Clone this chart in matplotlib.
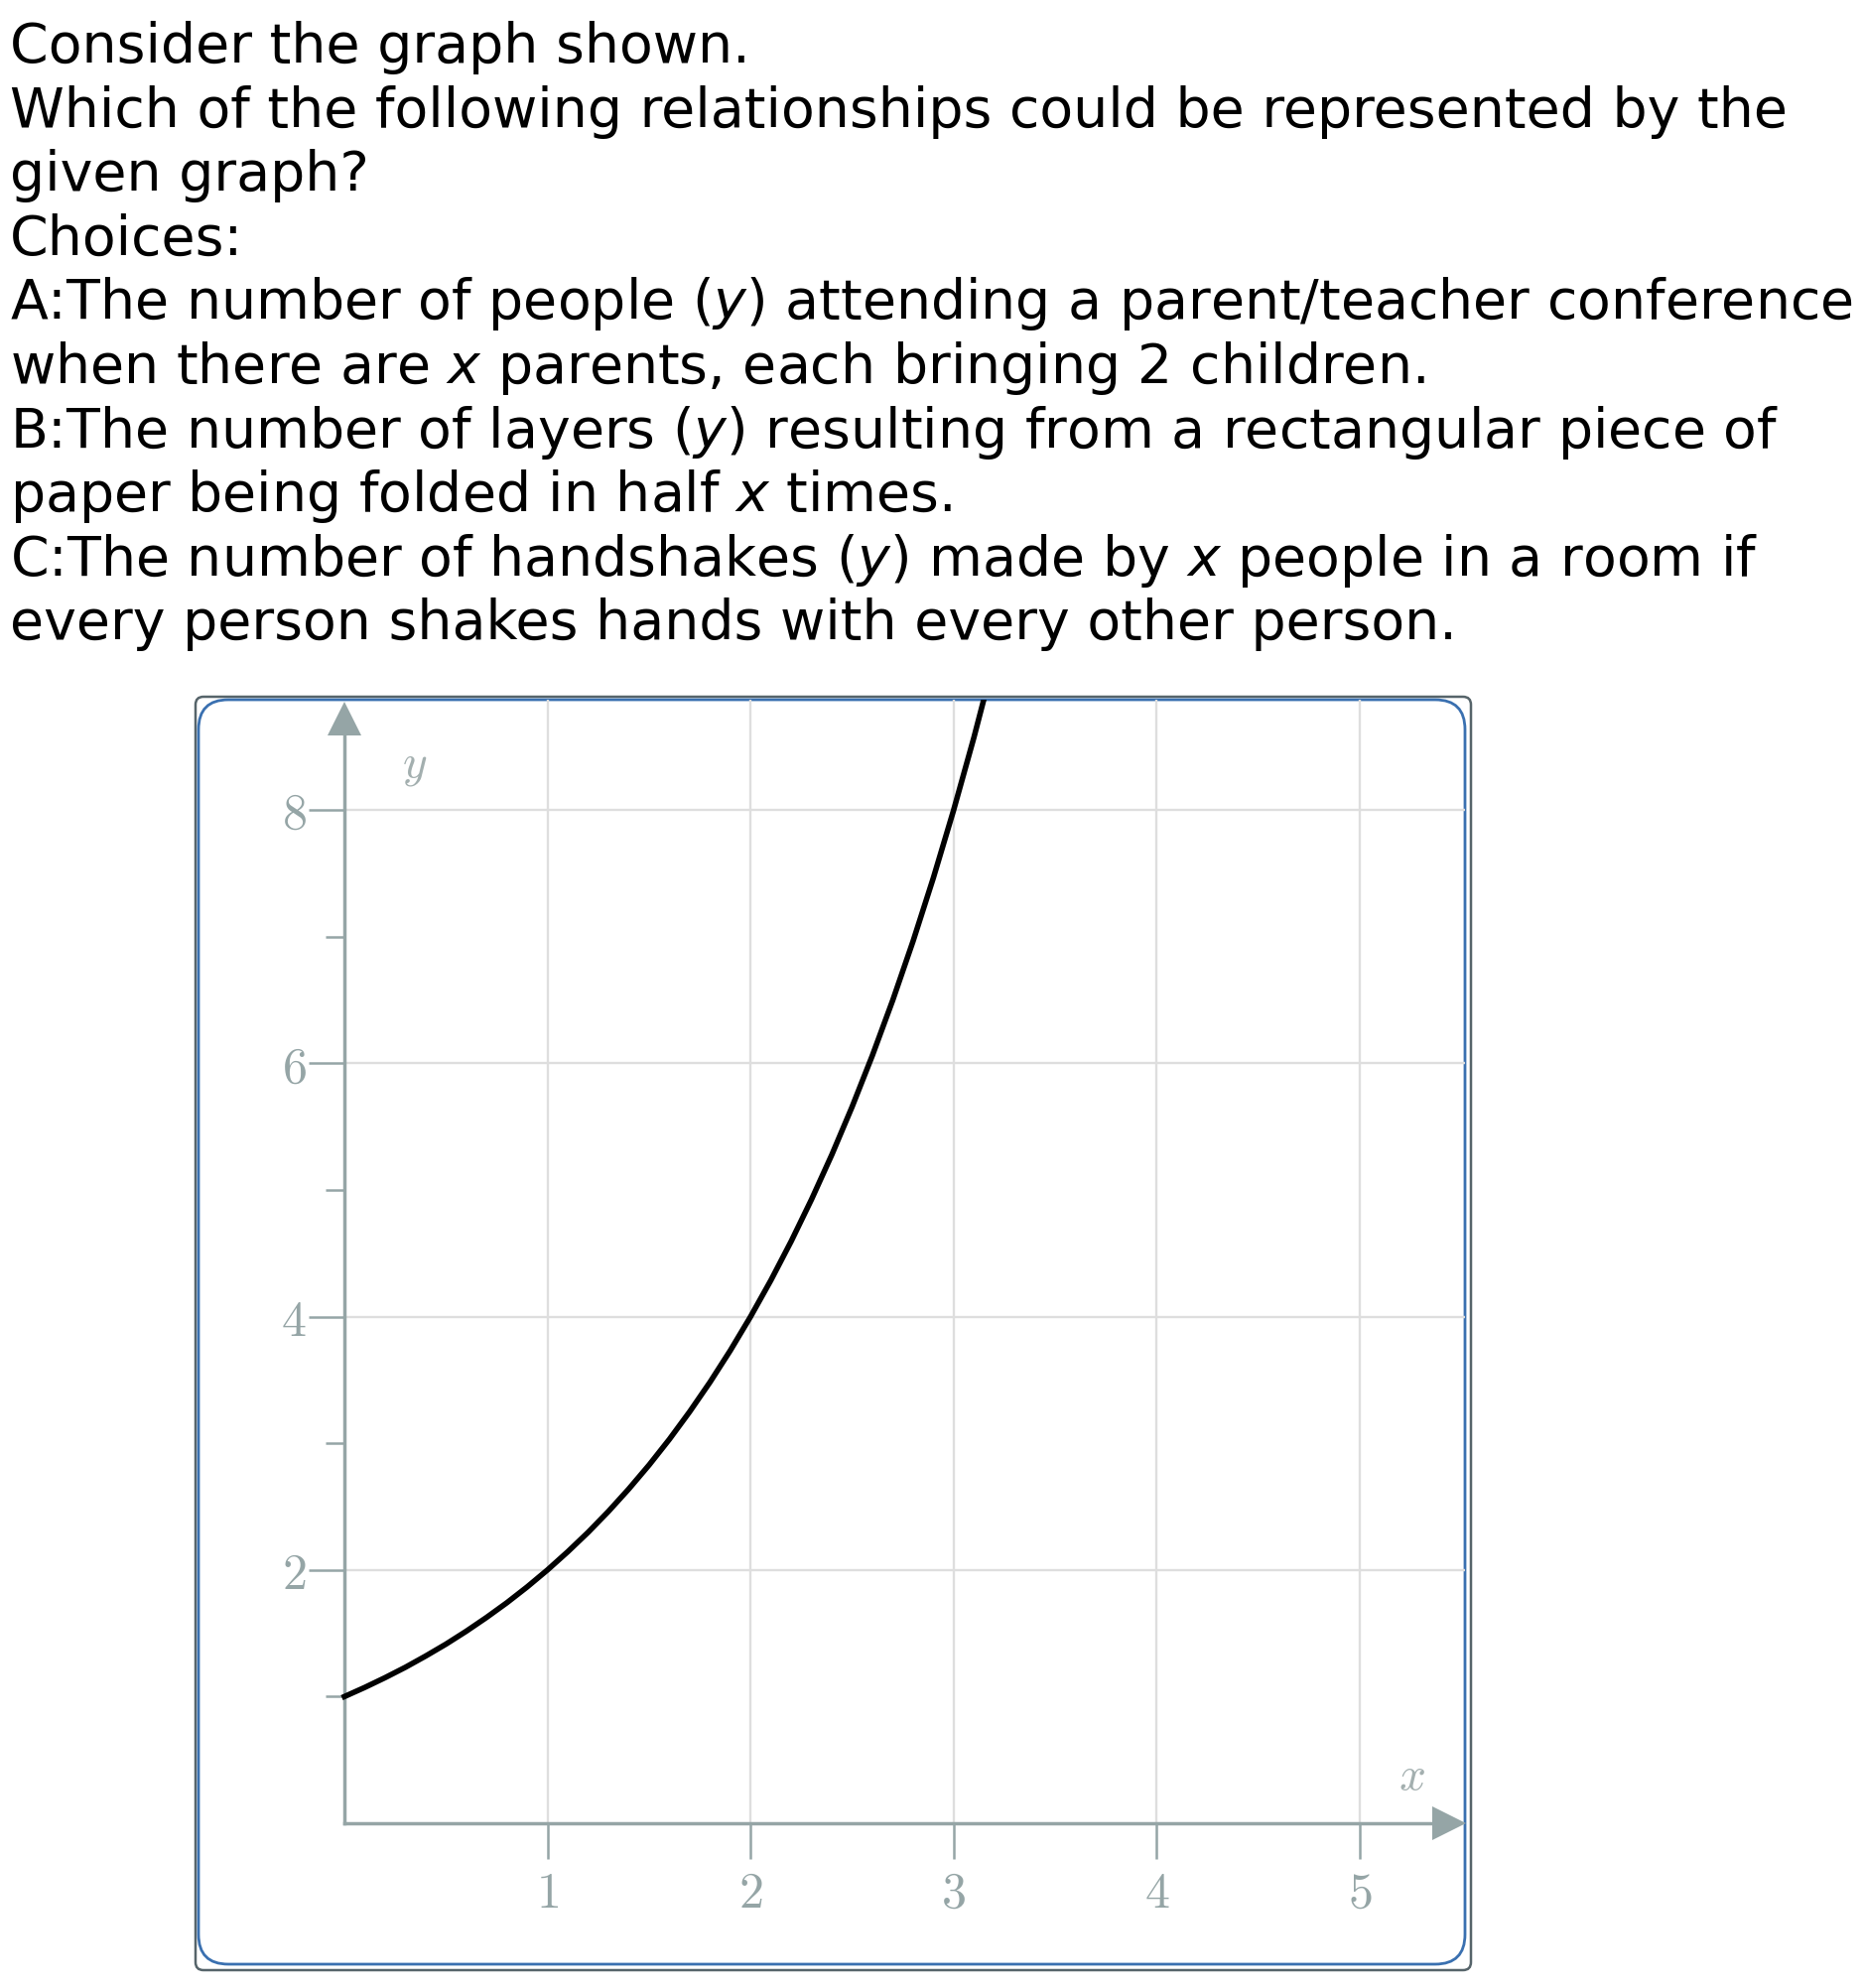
import matplotlib
matplotlib.use('Agg')
import matplotlib.pyplot as plt
from matplotlib.patches import FancyBboxPatch

# question text, one entry per printed line
lines = [
    'Consider the graph shown.',
    'Which of the following relationships could be represented by the',
    'given graph?',
    'Choices:',
    'A:The number of people ($y$) attending a parent/teacher conference',
    'when there are $x$ parents, each bringing 2 children.',
    'B:The number of layers ($y$) resulting from a rectangular piece of',
    'paper being folded in half $x$ times.',
    'C:The number of handshakes ($y$) made by $x$ people in a room if',
    'every person shakes hands with every other person.',
]

# points
x_vals = [0.0, 0.1, 0.2, 0.3, 0.4, 0.5, 0.6, 0.7, 0.8, 0.9, 1.0, 1.1, 1.2, 1.3,
          1.4, 1.5, 1.6, 1.7, 1.8, 1.9, 2.0, 2.1, 2.2, 2.3, 2.4, 2.5, 2.6, 2.7,
          2.8, 2.9, 3.0, 3.1, 3.2]
y_vals = [1.0, 1.072, 1.149, 1.231, 1.320, 1.414, 1.516, 1.625, 1.741, 1.866,
          2.0, 2.144, 2.297, 2.462, 2.639, 2.828, 3.031, 3.249, 3.482, 3.732,
          4.0, 4.287, 4.595, 4.925, 5.278, 5.657, 6.063, 6.498, 6.964, 7.464,
          8.0, 8.574, 9.190]

x_ticks = [1, 2, 3, 4, 5]
x_labels = ['$1$', '$2$', '$3$', '$4$', '$5$']
y_ticks = [2, 4, 6, 8]
y_labels = ['$2$', '$4$', '$6$', '$8$']
y_minor = [1, 3, 5, 7]

W, H = 1878, 2003
axis_col = '#95a5a6'
grid_col = '#dedede'

fig = plt.figure(figsize=(W / 100, H / 100), dpi=100)

for i, txt in enumerate(lines):
    base = 63 + 64.6 * i
    fig.text(10 / W, 1 - base / H, txt, fontsize=39.9, family='DejaVu Sans',
             va='baseline', ha='left', math_fontfamily='dejavusans')

# frame around the graph (inches, so corners stay round)
tr = fig.dpi_scale_trans
outer = FancyBboxPatch((197 / 100, (H - 1985) / 100), 1285 / 100, 1283 / 100,
                       boxstyle='round,pad=0,rounding_size=0.08',
                       fc='white', ec='#56646a', lw=1.8, transform=tr, zorder=0)
inner = FancyBboxPatch((200 / 100, (H - 1979) / 100), 1276 / 100, 1274 / 100,
                       boxstyle='round,pad=0,rounding_size=0.3',
                       fc='none', ec='#3a70b0', lw=2.0, transform=tr, zorder=0.5)
fig.patches.extend([outer, inner])

ax = fig.add_axes([200 / W, (H - 1979) / H, 1276 / W, 1274 / H])
ax.set_zorder(3)
ax.patch.set_visible(False)
ax.set_xlim(-0.7185, 5.518)
ax.set_ylim(-1.113, 8.871)

# grid only inside the first quadrant
ax.vlines(x_ticks, 0, 8.871, color=grid_col, lw=1.7, zorder=0)
ax.hlines(y_ticks, 0, 5.518, color=grid_col, lw=1.7, zorder=0)

ax.plot(x_vals, y_vals, color='black', lw=4.0, zorder=3)

for s in ['top', 'right']:
    ax.spines[s].set_visible(False)
ax.spines['left'].set_position(('data', 0))
ax.spines['bottom'].set_position(('data', 0))
ax.spines['left'].set_bounds(0, 8.6)
ax.spines['bottom'].set_bounds(0, 5.36)
for s in ['left', 'bottom']:
    ax.spines[s].set_color(axis_col)
    ax.spines[s].set_linewidth(2.5)

ax.plot(0, 8.72, marker='^', ms=24, color=axis_col, mew=0, clip_on=False)
ax.plot(5.44, 0, marker='>', ms=24, color=axis_col, mew=0, clip_on=False)

ax.set_xticks(x_ticks)
ax.set_xticklabels(x_labels)
ax.set_yticks(y_ticks)
ax.set_yticklabels(y_labels)
ax.set_yticks(y_minor, minor=True)
ax.tick_params(axis='x', direction='out', length=26, width=1.8, color=axis_col,
               pad=8, labelsize=36, labelcolor=axis_col)
ax.tick_params(axis='y', which='major', direction='out', length=26, width=1.8,
               color=axis_col, pad=1.5, labelsize=36, labelcolor=axis_col)
ax.tick_params(axis='y', which='minor', direction='out', length=13.5, width=1.8,
               color=axis_col)
for lab in ax.get_xticklabels() + ax.get_yticklabels():
    lab.set_math_fontfamily('cm')

ax.text(0.347, 8.35, '$y$', fontsize=34, color='#a3afaf', ha='center',
        va='center', math_fontfamily='cm')
ax.text(5.254, 0.368, '$x$', fontsize=34, color='#a3afaf', ha='center',
        va='center', math_fontfamily='cm')

fig.savefig('out.png', dpi=100)
